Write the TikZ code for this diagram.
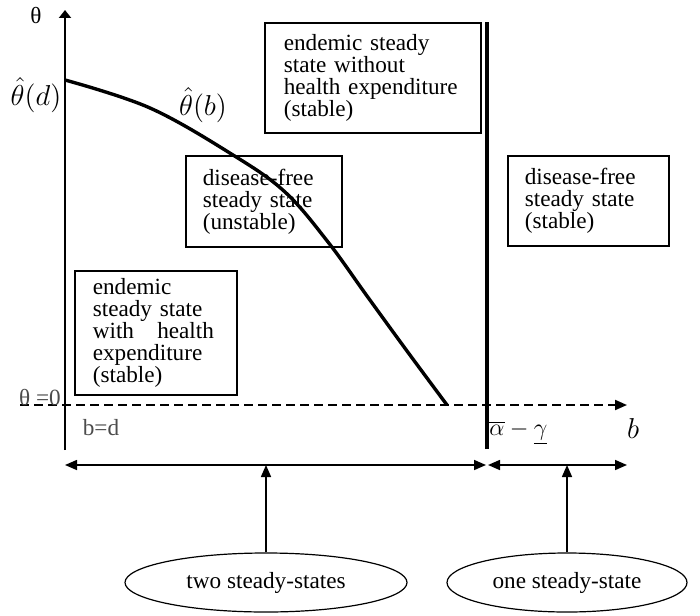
\documentclass[tikz,border=0pt]{standalone}
\usepackage{fontspec}
\setmainfont{Liberation Serif}
\usetikzlibrary{arrows.meta,shapes.geometric}

\newcommand{\diagfont}{\fontsize{11.6}{11}\selectfont}
\newcommand{\mathlabelfont}{\fontsize{13.4}{13}\selectfont}

\begin{document}
\begin{tikzpicture}[x=0.5pt,y=-0.5pt]
    \tikzset{
      rectnode/.style={rectangle,draw=black,line width=0.8pt,anchor=north west,inner ysep=0pt,align=left,font=\diagfont},
      ellipsenode/.style={ellipse,draw=black,line width=0.6pt,inner sep=0pt,minimum height=29.5pt,font=\diagfont},
      axislabel/.style={inner sep=0pt,font=\diagfont},
      mathlabel/.style={inner sep=0pt,font=\mathlabelfont},
      greylabel/.style={inner sep=0pt,font=\diagfont,text=black!70},
      axis/.style={line width=1pt},
      arrow/.style={-{Triangle[length=6pt,width=5pt]},line width=0.8pt},
      dblarrow/.style={{Triangle[length=6pt,width=5pt]}-{Triangle[length=6pt,width=5pt]},line width=0.8pt},
      thickline/.style={line width=1.7pt}
    }
    \useasboundingbox (0,0) rectangle (700,615);

    % axes
    \coordinate (origin) at (65,405);
    \coordinate (ytop) at (65,10);
    \coordinate (ybottom) at (65,450);
    \coordinate (xleft) at (20,405);
    \coordinate (xright) at (627,405);
    \coordinate (bartop) at (487,22);
    \coordinate (barbottom) at (487,449);
    \draw[axis,-{Triangle[length=4pt,width=6pt]}] (ybottom) -- (ytop);
    \draw[axis,dashed,dash pattern=on 4.5pt off 2.5pt,-{Triangle[length=6pt,width=5pt]}] (xleft) -- (xright);
    \draw[thickline] (barbottom) -- (bartop);

    % threshold curve
    \draw[thickline] plot[smooth,tension=0.6] coordinates {(65,80) (150,108) (233,155) (285,192) (328,242) (367,296) (407,351) (447,405)};

    % axis labels
    \node[axislabel](theta) at (36,16){θ};
    \node[mathlabel](thetad) at (36,95){$\hat{\theta}(d)$};
    \node[mathlabel](thetab) at (203,105){$\hat{\theta}(b)$};
    \node[greylabel](thetazero) at (40,397){θ =0};
    \node[greylabel](bd) at (101,428){b=d};
    \node[axislabel,anchor=west](threshold) at (489,433){$\overline{\alpha}-\underline{\gamma}$};
    \node[mathlabel](blabel) at (633,428){$b$};

    % regions
    \node[rectnode,text width=89pt,inner xsep=9.5pt,minimum height=55pt](endemicnoexp) at (264,22){endemic steady\\state without\\health expenditure\\(stable)};
    \node[rectnode,text width=61pt,inner xsep=8.5pt,minimum height=45.5pt](freeunstable) at (185,155){disease-free\\steady state\\(unstable)};
    \node[rectnode,text width=63.5pt,inner xsep=8.5pt,minimum height=45pt](freestable) at (507,155){disease-free\\steady state\\(stable)};
    \node[rectnode,text width=63pt,inner xsep=9pt,minimum height=62pt](endemicexp) at (74,270){endemic\\steady state\\with\hspace{11.6pt}health\\expenditure\\(stable)};

    % ranges
    \coordinate (rangeA) at (65,465);
    \coordinate (rangeB) at (486,465);
    \coordinate (rangeC) at (488,465);
    \coordinate (rangeD) at (627,465);
    \coordinate (twotip) at (266,465);
    \coordinate (onetip) at (567,465);
    \draw[dblarrow](rangeA) -- (rangeB);
    \draw[dblarrow](rangeC) -- (rangeD);

    \node[ellipsenode,minimum width=141pt](two) at (266,582.5){two steady-states};
    \node[ellipsenode,minimum width=120pt](one) at (567,582.5){one steady-state};
    \draw[arrow](two.north) -- (twotip);
    \draw[arrow](one.north) -- (onetip);
\end{tikzpicture}
\end{document}
